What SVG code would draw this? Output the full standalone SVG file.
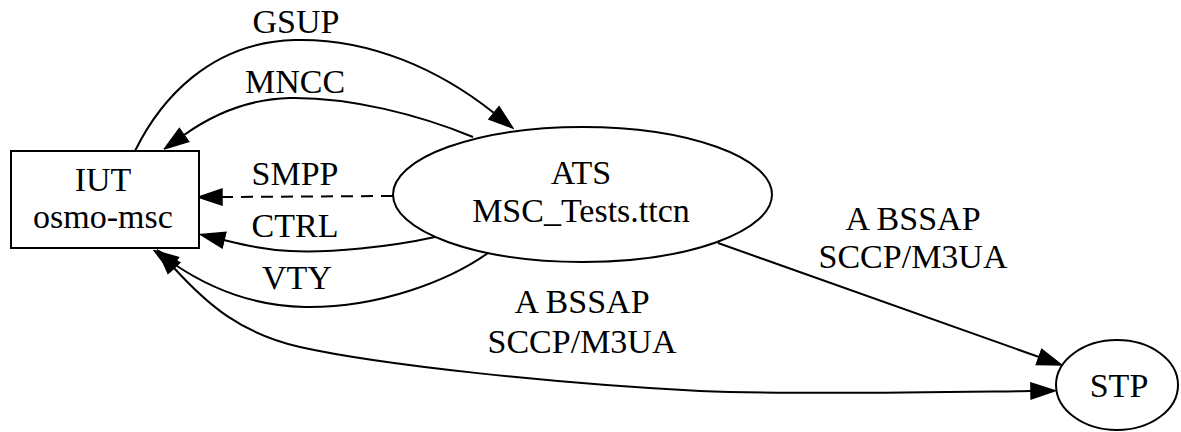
<svg xmlns="http://www.w3.org/2000/svg" width="1181" height="432" viewBox="0 0 1181 432">
<style>
text{font-family:"Liberation Serif","Times New Roman",serif;font-size:34px;fill:#000;text-anchor:middle}
.shape{fill:#fff;stroke:#000;stroke-width:2}
.edge{fill:none;stroke:#000;stroke-width:2}
.dash{stroke-dasharray:12,8}
</style>
<defs>
<marker id="ah" markerUnits="userSpaceOnUse" markerWidth="26" markerHeight="20" viewBox="-1 -1 26 20" refX="0" refY="9" orient="auto-start-reverse">
<path d="M0,1 L24,9 L0,17 z" fill="#000" stroke="#000" stroke-width="1.5"/>
</marker>
</defs>
<rect width="1181" height="432" fill="#fff"/>
<g id="connectors">
<g id="e-gsup"><path class="edge" d="M135,151 C160,100 210,42 295,40 C370,38 440,70 494,113" marker-end="url(#ah)"/><text x="296" y="33">GSUP</text></g>
<g id="e-mncc"><path class="edge" d="M473,137 C420,115 350,97 290,98 C250,99 215,113 184,135" marker-end="url(#ah)"/><text x="295" y="93">MNCC</text></g>
<g id="e-smpp"><path class="edge dash" d="M393,196 L222,197" marker-end="url(#ah)"/><text x="295" y="185">SMPP</text></g>
<g id="e-ctrl"><path class="edge" d="M435,237 C390,247 330,253 290,251 C265,250 245,245 224,240" marker-end="url(#ah)"/><text x="295" y="237">CTRL</text></g>
<g id="e-vty"><path class="edge" d="M488,253 C450,280 380,308 305,307 C250,306 205,285 174,264" marker-end="url(#ah)"/><text x="297" y="289">VTY</text></g>
<g id="e-iut-stp"><path class="edge" d="M174,268 C208,305 240,333 300,347 C380,365 560,384 700,391 C800,395 950,392 1031,391" marker-start="url(#ah)" marker-end="url(#ah)"/><text x="582" y="313">A BSSAP</text><text x="582" y="353">SCCP/M3UA</text></g>
<g id="e-ats-stp"><path class="edge" d="M718,243 L1039,357" marker-end="url(#ah)"/><text x="913" y="230">A BSSAP</text><text x="913" y="268">SCCP/M3UA</text></g>
</g>
<g id="IUT"><rect class="shape" x="11" y="151" width="188" height="97"/><text x="103" y="191">IUT</text><text x="103" y="228">osmo-msc</text></g>
<g id="ATS"><ellipse class="shape" cx="582.5" cy="194.5" rx="189.5" ry="67.5"/><text x="581" y="184">ATS</text><text x="581" y="222">MSC_Tests.ttcn</text></g>
<g id="STP"><ellipse class="shape" cx="1117" cy="385" rx="61" ry="45"/><text x="1119" y="397">STP</text></g>
</svg>
